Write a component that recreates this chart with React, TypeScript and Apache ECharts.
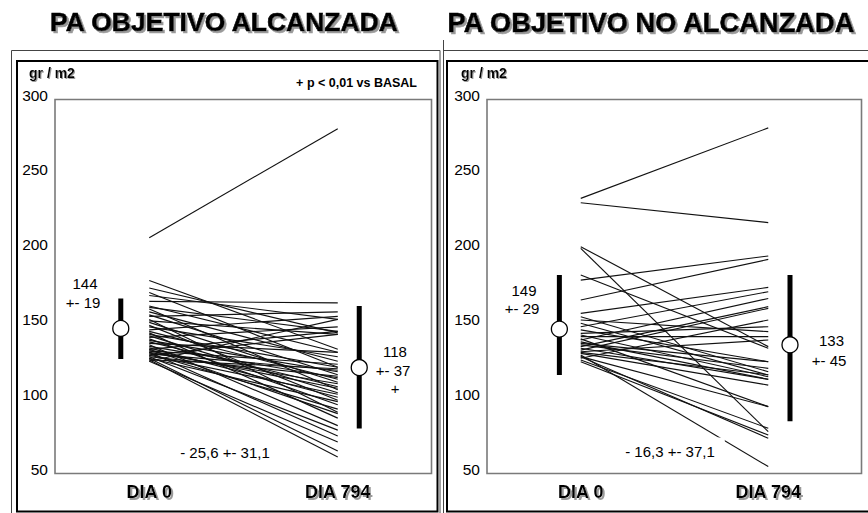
import React, { useEffect, useRef } from "react";
import * as echarts from "echarts";

// ---------- data ----------
const days = ["DIA 0", "DIA 794"];
const titles = ["PA OBJETIVO ALCANZADA", "PA OBJETIVO NO ALCANZADA"];
const unitLabel = "gr / m2";
const pNote = "+ p < 0,01 vs BASAL";

// Panel 1 (PA objetivo alcanzada): individual values day 0 -> day 794
const p1Start = [204.6, 176, 171, 168, 166, 162, 159, 158, 157, 155, 153, 152, 150, 149, 148, 146, 145, 143, 142, 141, 140, 139, 138, 137, 136, 135, 134, 133, 132, 131, 130, 130, 129, 129, 128, 128, 127, 127, 126, 126, 125, 125, 124, 124, 123, 123, 122, 122];
const p1End = [277.5, 130, 141, 118, 150, 161, 128, 142, 103, 122, 113, 155, 88, 140, 108, 96, 125, 152, 110, 84, 118, 101, 145, 93, 115, 105, 128, 79, 111, 98, 142, 87, 120, 104, 107, 72, 116, 90, 140, 100, 76, 112, 62, 95, 58, 117, 150, 68];

// Panel 2 (PA objetivo no alcanzada)
const p2Start = [230.9, 228, 198.6, 197.5, 179.7, 176.3, 163, 154, 151.8, 149.6, 147.4, 145.1, 143, 140.7, 139.6, 138.5, 137, 136.2, 134, 133, 131.8, 130.7, 129.5, 128.4, 127.3, 126.2, 125.1, 125, 124, 122.9, 121.7, 128, 135];
const p2End = [278, 214.7, 131.8, 75, 130.7, 192.4, 190.1, 171.4, 115, 141.8, 112.8, 168.5, 121.7, 145.1, 111.7, 138.5, 91.7, 164, 121.7, 117.3, 158.5, 109.9, 157.4, 136.2, 106.1, 51.6, 91.7, 70.5, 149.6, 77.2, 72.7, 113, 110];

// Mean markers and error bars (as drawn), [day 0, day 794]
const p1Mean = [144, 117.8];
const p1Low = [123.5, 77];
const p1High = [164, 159];
const p1MarkerX = [-0.151, 1.114];

const p2Mean = [143.5, 133];
const p2Low = [112.8, 82];
const p2High = [179.7, 179.7];
const p2MarkerX = [-0.114, 1.116];

const p1MeanLabels = [["144", "+- 19"], ["118", "+- 37", "+"]];
const p2MeanLabels = [["149", "+- 29"], ["133", "+- 45"]];
const changeLabels = ["- 25,6 +- 31,1", "- 16,3 +- 37,1"];

const FONT = "'Liberation Sans', Arial, sans-serif";

function txt(text: string, x: number, y: number, opts: any = {}) {
  return {
    type: "text",
    x,
    y,
    z: 100,
    silent: true,
    style: {
      text,
      fill: opts.fill || "#000",
      fontSize: opts.fontSize || 15,
      fontWeight: opts.fontWeight || "normal",
      fontFamily: FONT,
      align: opts.align || "center",
      verticalAlign: "middle",
      ...(opts.stroke ? { stroke: "#000", lineWidth: opts.stroke } : {}),
      ...(opts.shadow
        ? {
            textShadowColor: "#9a9a9a",
            textShadowOffsetX: opts.shadow,
            textShadowOffsetY: opts.shadow,
            textShadowBlur: 1.5,
          }
        : {}),
      ...(opts.bg ? { backgroundColor: opts.bg, padding: opts.padding } : {}),
    },
  };
}

function rect(x1: number, y1: number, x2: number, y2: number, stroke: string, lw: number) {
  return {
    type: "rect",
    z: 50,
    silent: true,
    shape: { x: x1, y: y1, width: x2 - x1, height: y2 - y1 },
    style: { fill: "none", stroke, lineWidth: lw },
  };
}

function panelSeries(idx: number, starts: number[], ends: number[], mx: number[], mean: number[], low: number[], high: number[]) {
  const s: any[] = [];
  starts.forEach((v, k) => {
    s.push({
      type: "line",
      xAxisIndex: idx,
      yAxisIndex: idx,
      data: [[0, v], [1, ends[k]]],
      symbol: "none",
      silent: true,
      z: 2,
      lineStyle: { color: "#111", width: 1.15 },
    });
  });
  for (let d = 0; d < 2; d++) {
    s.push({
      type: "line",
      xAxisIndex: idx,
      yAxisIndex: idx,
      data: [[mx[d], low[d]], [mx[d], high[d]]],
      symbol: "none",
      silent: true,
      z: 3,
      lineStyle: { color: "#000", width: 5, cap: "butt" },
    });
  }
  s.push({
    type: "scatter",
    xAxisIndex: idx,
    yAxisIndex: idx,
    data: [[mx[0], mean[0]], [mx[1], mean[1]]],
    symbol: "circle",
    symbolSize: 16,
    silent: true,
    z: 4,
    itemStyle: { color: "#fff", opacity: 1, borderColor: "#000", borderWidth: 1.3 },
  });
  return s;
}

function xAxisFor(idx: number) {
  return {
    gridIndex: idx,
    type: "value",
    min: -0.5,
    max: 1.5,
    interval: 0.5,
    axisLine: { show: false },
    axisTick: { show: false },
    splitLine: { show: false },
    axisLabel: {
      margin: 14,
      color: "#000",
      fontSize: 18,
      fontWeight: "bold",
      fontFamily: FONT,
      textShadowColor: "#9a9a9a",
      textShadowOffsetX: 2,
      textShadowOffsetY: 2,
      textShadowBlur: 1.5,
      formatter: (v: number) => (v === 0 ? days[0] : v === 1 ? days[1] : ""),
    },
  };
}

function yAxisFor(idx: number) {
  return {
    gridIndex: idx,
    type: "value",
    min: 50,
    max: 300,
    interval: 50,
    axisLine: { show: false },
    axisTick: { show: false },
    splitLine: { show: false },
    axisLabel: { margin: 7, color: "#000", fontSize: 15.5, fontFamily: FONT },
  };
}

export default function App() {
  const ref = useRef<HTMLDivElement>(null);
  useEffect(() => {
    if (!ref.current) return;
    const chart = echarts.init(ref.current, null, { renderer: "svg", width: 868, height: 513 });
    const graphic: any[] = [
      // outer thin frames
      rect(11.5, 50.5, 440, 520, "#444", 1),
      rect(443.5, 50.5, 880, 520, "#444", 1),
      {
        type: "line",
        z: 50,
        silent: true,
        shape: { x1: 443.5, y1: 40, x2: 443.5, y2: 513 },
        style: { stroke: "#444", lineWidth: 1 },
      },
      // inner thick frames
      rect(17, 61, 437.5, 511.5, "#000", 2),
      rect(447, 61, 880, 511.5, "#000", 2),
      // plot boxes
      rect(55, 99.5, 431.5, 473.5, "#7a7a7a", 1.6),
      rect(487, 99.5, 861.5, 473.5, "#7a7a7a", 1.6),
      // titles
      txt(titles[0], 224, 22, { fontSize: 26.5, fontWeight: "bold", shadow: 2, stroke: 0.6 }),
      txt(titles[1], 651, 22, { fontSize: 27.3, fontWeight: "bold", shadow: 2, stroke: 0.6 }),
      // unit labels
      txt(unitLabel, 29, 73, { fontSize: 14, fontWeight: "bold", align: "left", shadow: 1 }),
      txt(unitLabel, 461, 73, { fontSize: 14, fontWeight: "bold", align: "left", shadow: 1 }),
      txt(pNote, 417, 83, { fontSize: 12.5, fontWeight: "bold", align: "right" }),
      // panel 1 mean labels
      txt(p1MeanLabels[0][0], 85, 283.5),
      txt(p1MeanLabels[0][1], 83, 302),
      txt(p1MeanLabels[1][0], 395, 351),
      txt(p1MeanLabels[1][1], 393, 370),
      txt(p1MeanLabels[1][2], 395, 388.5),
      txt(changeLabels[0], 225, 452.5),
      // panel 2 mean labels
      txt(p2MeanLabels[0][0], 524, 290),
      txt(p2MeanLabels[0][1], 522, 308.5),
      txt(p2MeanLabels[1][0], 831.5, 340),
      txt(p2MeanLabels[1][1], 829, 360),
      txt(changeLabels[1], 670, 451.5, { bg: "#fff", padding: [10, 10, 3, 10] }),
    ];

    chart.setOption({
      animation: false,
      backgroundColor: "#fff",
      grid: [
        { left: 55, top: 95, width: 377, height: 374 },
        { left: 487, top: 95, width: 375, height: 374 },
      ],
      xAxis: [xAxisFor(0), xAxisFor(1)],
      yAxis: [yAxisFor(0), yAxisFor(1)],
      series: [
        ...panelSeries(0, p1Start, p1End, p1MarkerX, p1Mean, p1Low, p1High),
        ...panelSeries(1, p2Start, p2End, p2MarkerX, p2Mean, p2Low, p2High),
      ],
      graphic,
    });
    return () => chart.dispose();
  }, []);
  return (
    <div
      ref={ref}
      style={{ position: "absolute", left: 0, top: 0, width: 868, height: 513, background: "#fff" }}
    />
  );
}
